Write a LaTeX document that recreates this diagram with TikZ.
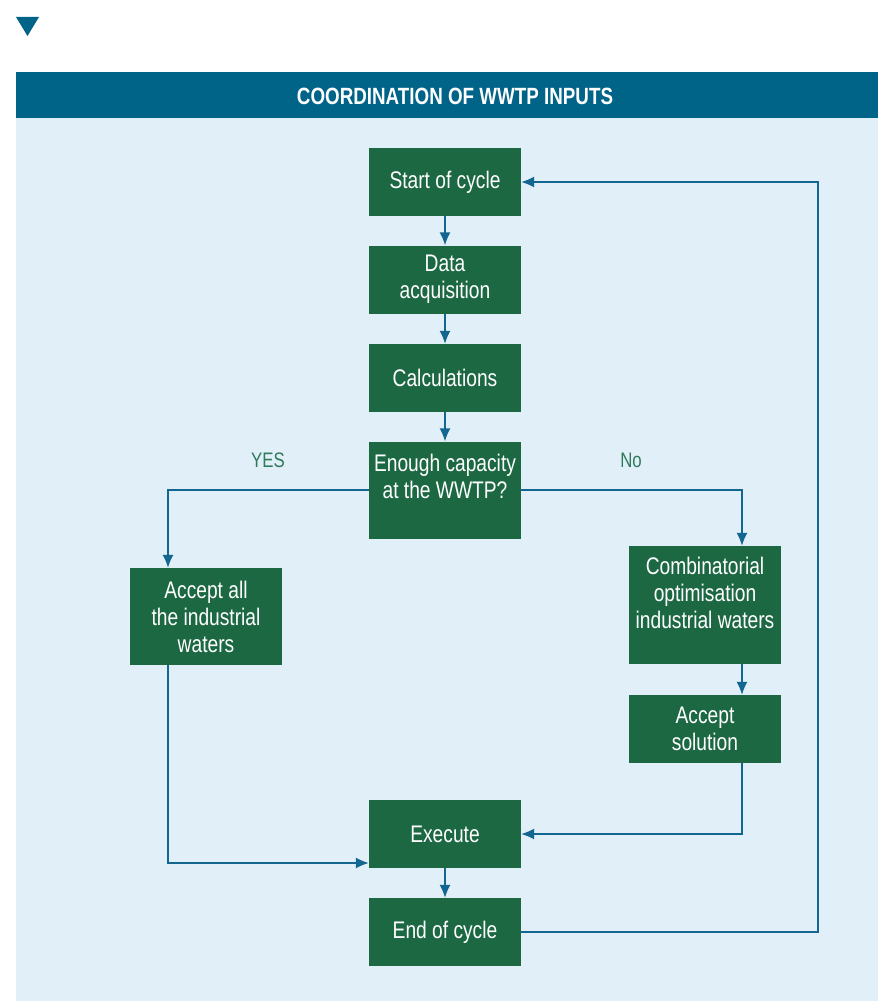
\documentclass[tikz,border=0pt]{standalone}
\usepackage{fontspec}
\setmainfont{Liberation Sans}[FakeStretch=0.8]
\usetikzlibrary{arrows.meta}

\definecolor{boxgreen}{HTML}{1C6843}
\definecolor{headblue}{HTML}{006388}
\definecolor{panelblue}{HTML}{E1EFF9}
\definecolor{lineblue}{HTML}{12668F}
\definecolor{labgreen}{HTML}{2F7A5A}

\tikzset{
  stepbox/.style={fill=boxgreen, text=white, align=center, inner sep=0pt,
    minimum width=152pt, minimum height=68pt,
    font=\fontsize{24pt}{27pt}\selectfont},
  flow/.style={draw=lineblue, line width=1.4pt,
    -{Latex[length=13pt,width=11pt]}},
  answer/.style={text=labgreen, font=\fontsize{21pt}{24pt}\selectfont}
}

\begin{document}
\begin{tikzpicture}[x=1pt,y=-1pt]
        \useasboundingbox (0,0) rectangle (878,1003);
        % marker and panel
        \fill[headblue] (16,17) -- (39,17) -- (27.5,36) -- cycle;
        \fill[panelblue] (16,118) rectangle (878,1001);
        \fill[headblue] (16,72) rectangle (878,118);
        \node[text=white, font=\bfseries\fontsize{23.5pt}{24pt}\selectfont] (title) at (455,96) {COORDINATION OF WWTP INPUTS};
        % boxes
        \node[stepbox] (start) at (445,182) {Start of cycle};
        \node[stepbox] (data) at (445,279.5) {Data\\acquisition};
        \node[stepbox] (calc) at (445,378) {Calculations};
        \node[stepbox, minimum height=97pt] (cap) at (445,490) {Enough capacity\\at the WWTP?\\\mbox{}};
        \node[stepbox, minimum height=97pt] (all) at (206,616.5) {Accept all\\the industrial\\waters};
        \node[stepbox, minimum height=118pt] (comb) at (705,605) {Combinatorial\\optimisation\\industrial waters\\[-3pt]\mbox{}};
        \node[stepbox] (sol) at (705,729) {Accept\\solution};
        \node[stepbox] (exec) at (445,834) {Execute};
        \node[stepbox] (stop) at (445,932) {End of cycle};
        \node[answer] (yes) at (268,460) {YES};
        \node[answer] (no) at (631,460) {No};
        % connectors
        \coordinate (back) at (818,182);
        \draw[flow] (start) -- (data);
        \draw[flow] (data) -- (calc);
        \draw[flow] (calc) -- (cap);
        \draw[flow] (cap.west) -| (all.north -| 168,0);
        \draw[flow] (cap.east) -| (comb.north -| 742,0);
        \draw[flow] (comb.south -| 742,0) -- (sol.north -| 742,0);
        \draw[flow] (sol.south -| 742,0) |- (exec.east);
        \draw[flow] (all.south -| 168,0) |- (exec.west |- 0,863);
        \draw[flow] (exec) -- (stop);
        \draw[flow] (stop.east) -| (back) -- (start.east);
    \end{tikzpicture}
\end{document}
